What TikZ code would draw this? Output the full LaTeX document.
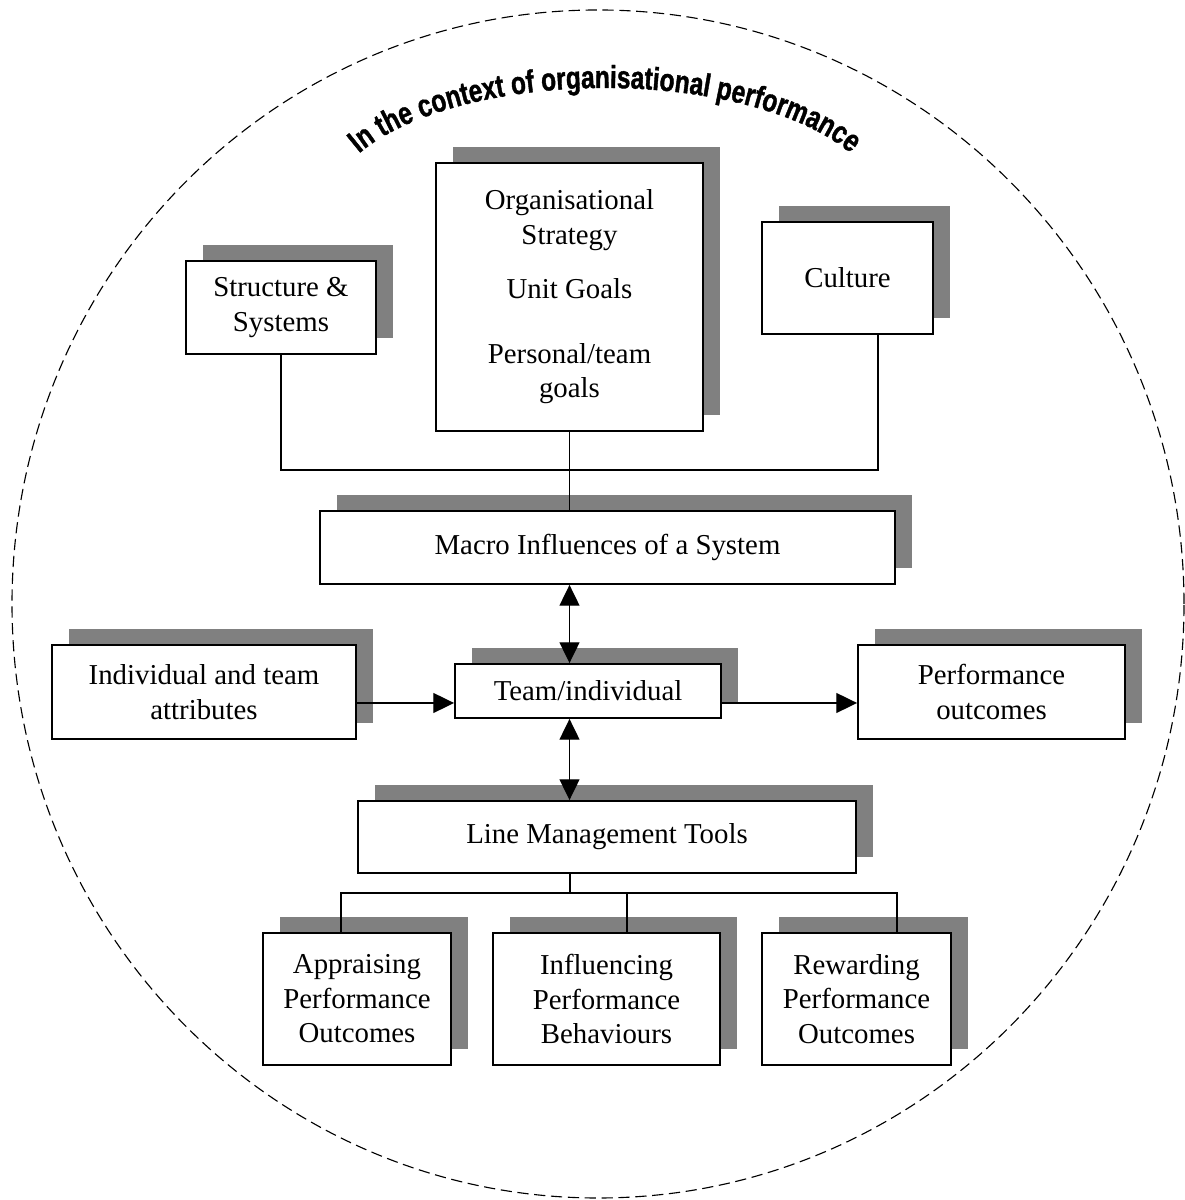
\documentclass[tikz,border=0pt]{standalone}
\usepackage{fontspec}
\setmainfont{Liberation Serif}
\newfontfamily\arcfont[FakeStretch=0.77,FakeBold=1.2]{Liberation Sans Bold}
\usetikzlibrary{arrows.meta,shadows,decorations.text}
\definecolor{shadowgray}{RGB}{128,128,128}
\tikzset{
	box/.style={draw,line width=1.3pt,fill=white,inner sep=0pt,align=center,
		drop shadow={shadow xshift=0.42cm,shadow yshift=0.4cm,opacity=1,fill=shadowgray},
		font=\fontsize{20.5}{24.5}\selectfont},
	link/.style={line width=1pt},
	tip/.style={line width=1pt,-{Triangle[length=5.2mm,width=5mm]}},
	twotip/.style={line width=1pt,{Triangle[length=5.2mm,width=5mm]}-{Triangle[length=5.2mm,width=5mm]}}
}
\begin{document}
\begin{tikzpicture}[x=0.025cm,y=0.025cm]
	\useasboundingbox (0,0) rectangle (1184,1200);
	\draw[dash pattern=on 8pt off 4pt,line width=0.8pt] (598,596) ellipse[x radius=586,y radius=594];
	\path[decorate,decoration={text along path,text align=center,
		text={|\arcfont\fontsize{22.6}{26}\selectfont|In the context of organisational performance}}]
		(605,992) ++(156.5:276 and 120) arc[start angle=156.5,end angle=23.5,x radius=276,y radius=120];
	% upper boxes
	\node[box,minimum width=6.675cm,minimum height=6.7cm] (strat) at (569.5,903)
		{Organisational\\Strategy\\[0.5cm]Unit Goals\\[0.75cm]Personal/team\\goals};
	\node[box,minimum width=4.75cm,minimum height=2.325cm] (struct) at (281,892.5) {Structure \&\\Systems};
	\node[box,minimum width=4.275cm,minimum height=2.8cm] (culture) at (847.5,922) {Culture};
	\node[box,minimum width=14.375cm,minimum height=1.825cm] (macro) at (607.5,652.5) {Macro Influences of a System};
	% middle row
	\node[box,minimum width=7.6cm,minimum height=2.35cm] (attrib) at (204,508) {Individual and team\\attributes};
	\node[box,minimum width=6.65cm,minimum height=1.35cm] (team) at (588,509) {Team/individual};
	\node[box,minimum width=6.675cm,minimum height=2.35cm] (perf) at (991.5,508) {Performance\\outcomes};
	% lower boxes
	\node[box,minimum width=12.45cm,minimum height=1.8cm] (lmt) at (607,363) {Line Management Tools};
	\node[box,minimum width=4.7cm,minimum height=3.3cm] (apprais) at (357,201) {Appraising\\Performance\\Outcomes};
	\node[box,minimum width=5.675cm,minimum height=3.3cm] (influ) at (606.5,201) {Influencing\\Performance\\Behaviours};
	\node[box,minimum width=4.725cm,minimum height=3.3cm] (reward) at (856.5,201) {Rewarding\\Performance\\Outcomes};
	% connectors
	\coordinate (upjoin) at (878,730);
	\draw[link] (struct.south) |- (upjoin) -- (upjoin |- culture.south);
	\draw[link] (strat.south) -- (strat.south |- macro.north);
	\draw[twotip] (macro.south -| strat.south) -- (team.north -| strat.south);
	\coordinate (flow) at (0,497);
	\draw[tip] (attrib.east |- flow) -- (team.west |- flow);
	\draw[tip] (team.east |- flow) -- (perf.west |- flow);
	\draw[twotip] (team.south -| strat.south) -- (lmt.north -| strat.south);
	\coordinate (bus) at (570,307);
	\coordinate (busl) at (341,307);
	\coordinate (busm) at (627,307);
	\coordinate (busr) at (897,307);
	\draw[link] (lmt.south -| bus) -- (bus);
	\draw[link] (apprais.north -| busl) |- (busr) -- (reward.north -| busr);
	\draw[link] (influ.north -| busm) -- (busm);
\end{tikzpicture}
\end{document}
